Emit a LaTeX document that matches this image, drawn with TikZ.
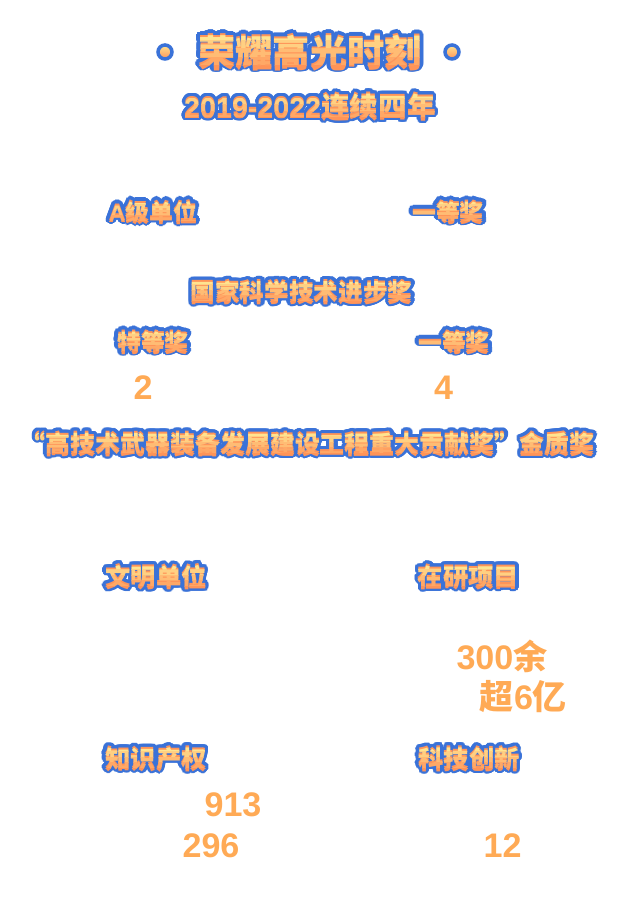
\documentclass[tikz,border=0pt]{standalone}
\usepackage{fontspec}
\setmainfont{Liberation Sans}
\newfontfamily\cjk{Noto Sans CJK SC}
\usepackage{contour}
\usetikzlibrary{calc}
\usetikzlibrary{positioning}

\definecolor{rimblue}{HTML}{3A72D8}
\definecolor{topgold}{HTML}{FFE490}
\definecolor{lowpeach}{HTML}{FF9458}
\definecolor{numorange}{HTML}{FFAA55}

\contourlength{1pt}
\contournumber{24}

\tikzset{
	glow/.style={inner sep=0pt, text=lowpeach},
	band/.style={inner sep=0pt},
	num/.style={inner sep=0pt, text=numorange, font=\fontsize{9.7}{11}\selectfont\bfseries},
	dot/.style={circle, inner sep=0pt, minimum size=0.14cm, draw=rimblue, line width=0.035cm, top color=topgold, bottom color=lowpeach},
}

% outlined label with a top-to-bottom colour fade: name, position, size, text
\newcommand{\glowtext}[4]{%
	\node [glow, font=\fontsize{#3}{#3}\selectfont\bfseries] (#1) at (#2) {\contour{rimblue}{#4}};
	\foreach \k in {0,...,4} {
		\pgfmathsetmacro\lo{\k/5}
		\pgfmathsetmacro\hi{(\k+1)/5}
		\pgfmathtruncatemacro\mix{100-25*\k}
		\begin{scope}
			\clip ($(#1.north west)!\lo!(#1.south west)$) rectangle ($(#1.north east)!\hi!(#1.south east)$);
			\node [band, font=\fontsize{#3}{#3}\selectfont\bfseries, text=topgold!\mix!lowpeach] (#1-band\k) at (#2) {#4};
		\end{scope}
	}
}

\begin{document}
\begin{tikzpicture}

	\useasboundingbox (0,0) rectangle (6.22,9.01);

	% heading
	\glowtext{title}{3.10,8.48}{10.6}{\cjk 荣耀高光时刻}
	\node [dot] (dotleft) at (1.65,8.49) {};
	\node [dot] (dotright) at (4.52,8.49) {};
	\glowtext{years}{3.10,7.93}{8.15}{2019-2022{\cjk 连续四年}}

	\glowtext{aclass}{1.53,6.88}{6.8}{A{\cjk 级单位}}
	\glowtext{firstprize}{4.48,6.88}{6.8}{\cjk 一等奖}

	% national prize
	\glowtext{national}{3.015,6.08}{7}{\cjk 国家科学技术进步奖}
	\glowtext{special}{1.53,5.58}{6.8}{\cjk 特等奖}
	\glowtext{first}{4.54,5.58}{6.8}{\cjk 一等奖}
	\node [num] (specialnum) at (1.43,5.13) {2};
	\node [num] (firstnum) at (4.435,5.13) {4};

	\glowtext{gold}{3.075,4.56}{7.1}{\cjk “高技术武器装备发展建设工程重大贡献奖”金质奖}

	% lower blocks
	\glowtext{civil}{1.56,3.23}{7.2}{\cjk 文明单位}
	\glowtext{projects}{4.685,3.23}{7.2}{\cjk 在研项目}
	\node [num] (projnum) at (5.02,2.45) {300{\cjk 余}};
	\node [num] (projsum) at (5.235,2.04) {{\cjk 超}6{\cjk 亿}};

	\glowtext{ip}{1.56,1.41}{7.2}{\cjk 知识产权}
	\glowtext{innov}{4.69,1.41}{7.2}{\cjk 科技创新}
	\node [num] (ipnumA) at (2.33,0.96) {913};
	\node [num] (ipnumB) at (2.11,0.55) {296};
	\node [num] (innovnum) at (5.025,0.55) {12};

\end{tikzpicture}
\end{document}
